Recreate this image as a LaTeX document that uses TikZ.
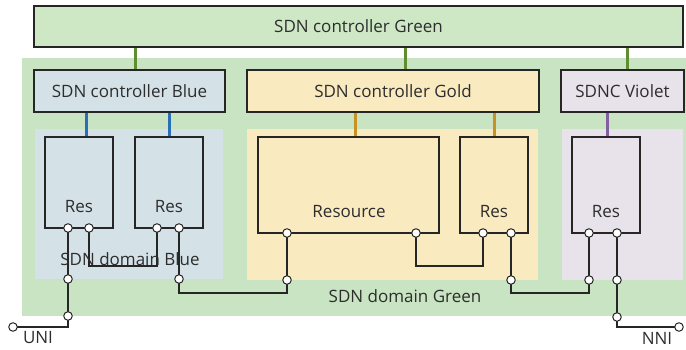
\documentclass[tikz,border=0pt]{standalone}
\usepackage{fontspec}
\setmainfont{Open Sans}
\definecolor{gbg}{RGB}{200,228,194}
\definecolor{gtop}{RGB}{206,232,198}
\definecolor{bfill}{RGB}{212,226,232}
\definecolor{yfill}{RGB}{250,234,192}
\definecolor{vfill}{RGB}{232,226,234}
\definecolor{gline}{RGB}{96,140,50}
\definecolor{bline}{RGB}{40,110,185}
\definecolor{yline}{RGB}{200,145,35}
\definecolor{vline}{RGB}{130,95,160}
\definecolor{txt}{RGB}{45,45,45}
\begin{document}
\begin{tikzpicture}[x=1pt,y=-1pt,
  box/.style={draw=black!85, line width=1.3pt, inner sep=0pt, text=txt},
  bg/.style={draw=none, inner sep=0pt},
  port/.style={circle, draw=black!85, fill=white, minimum size=8.5pt, inner sep=0pt, line width=1pt},
  wire/.style={draw=black!85, line width=1.2pt},
  ctl/.style={line width=3pt},
  tfont/.style={font=\fontsize{17}{19}\selectfont},
  lbl/.style={text=txt, inner sep=0pt, tfont}]
\useasboundingbox (0,0) rectangle (686,350);
% backgrounds
\node[bg, fill=gbg, minimum width=664pt, minimum height=258pt] (gdom) at (354,187) {};
\node[bg, fill=bfill, minimum width=188pt, minimum height=150pt] (bdom) at (129,204) {};
\node[bg, fill=yfill, minimum width=291pt, minimum height=151pt] (ydom) at (392.5,204.5) {};
\node[bg, fill=vfill, minimum width=121pt, minimum height=151pt] (vdom) at (622.5,204.5) {};
% controllers
\node[box, fill=gtop, minimum width=649pt, minimum height=41pt, tfont] (gc) at (358.5,26.5) {SDN controller Green};
\node[box, fill=bfill, minimum width=191pt, minimum height=42pt, tfont] (bc) at (129.5,91) {SDN controller Blue};
\node[box, fill=yfill, minimum width=292pt, minimum height=42pt, tfont] (yc) at (393,91) {SDN controller Gold};
\node[box, fill=vfill, minimum width=123pt, minimum height=42pt, tfont] (vc) at (622.5,91) {SDNC Violet};
% resources
\node[box, minimum width=68pt, minimum height=91pt] (rb1) at (79,182.5) {};
\node[box, minimum width=68pt, minimum height=91pt] (rb2) at (169,182.5) {};
\node[box, minimum width=181pt, minimum height=96pt] (ry1) at (348.5,185) {};
\node[box, minimum width=68pt, minimum height=96pt] (ry2) at (494,185) {};
\node[box, minimum width=68pt, minimum height=96pt] (rv) at (606,185) {};
% controller links
\coordinate (x1) at (135,0); \coordinate (x2) at (405,0); \coordinate (x3) at (627,0);
\coordinate (x4) at (86,0); \coordinate (x5) at (169,0);
\coordinate (x6) at (355,0); \coordinate (x7) at (494,0); \coordinate (x8) at (607,0);
\draw[ctl, gline] (gc.south -| x1) -- (bc.north -| x1);
\draw[ctl, gline] (gc.south -| x2) -- (yc.north -| x2);
\draw[ctl, gline] (gc.south -| x3) -- (vc.north -| x3);
\draw[ctl, bline] (bc.south -| x4) -- (rb1.north -| x4);
\draw[ctl, bline] (bc.south -| x5) -- (rb2.north -| x5);
\draw[ctl, yline] (yc.south -| x6) -- (ry1.north -| x6);
\draw[ctl, yline] (yc.south -| x7) -- (ry2.north -| x7);
\draw[ctl, vline] (vc.south -| x8) -- (rv.north -| x8);
% port positions
\coordinate (p1) at (68,228); \coordinate (p2) at (89,228);
\coordinate (p3) at (157,228); \coordinate (p4) at (179,228);
\coordinate (p5) at (68,279); \coordinate (p6) at (179,279);
\coordinate (p7) at (68,316); \coordinate (uni) at (13,327);
\coordinate (g1) at (287,233); \coordinate (g2) at (416,233);
\coordinate (g3) at (483,233); \coordinate (g4) at (511,233);
\coordinate (g5) at (287,280); \coordinate (g6) at (511,280);
\coordinate (v1) at (589,233); \coordinate (v2) at (617,233);
\coordinate (v3) at (589,280); \coordinate (v4) at (617,280);
\coordinate (v5) at (617,317); \coordinate (nni) at (679,327);
\coordinate (ya) at (0,266); \coordinate (yb) at (0,293);
% wires
\draw[wire] (p1) -- (p5) -- (p7) |- (uni);
\draw[wire] (p2) -- (p2 |- ya) -| (p3);
\draw[wire] (p4) -- (p6) -- (p6 |- yb) -| (g5) -- (g1);
\draw[wire] (g2) -- (g2 |- ya) -| (g3);
\draw[wire] (g4) -- (g6) -- (g6 |- yb) -| (v3) -- (v1);
\draw[wire] (v2) -- (v4) -- (v5) |- (nni);
% ports
\foreach \p in {p1,p2,p3,p4,p5,p6,p7,uni,g1,g2,g3,g4,g5,g6,v1,v2,v3,v4,v5,nni}
  \node[port] at (\p) {};
% labels
\node[lbl] (lres1) at (79,207) {Res};
\node[lbl] (lres2) at (169,207) {Res};
\node[lbl] (lres3) at (349,212) {Resource};
\node[lbl] (lres4) at (494,212) {Res};
\node[lbl] (lres5) at (606,212) {Res};
\node[lbl] (ldb) at (130,259) {SDN domain Blue};
\node[lbl] (ldg) at (405,296) {SDN domain Green};
\node[lbl] (luni) at (38,338) {UNI};
\node[lbl] (lnni) at (657,338) {NNI};
\end{tikzpicture}
\end{document}
